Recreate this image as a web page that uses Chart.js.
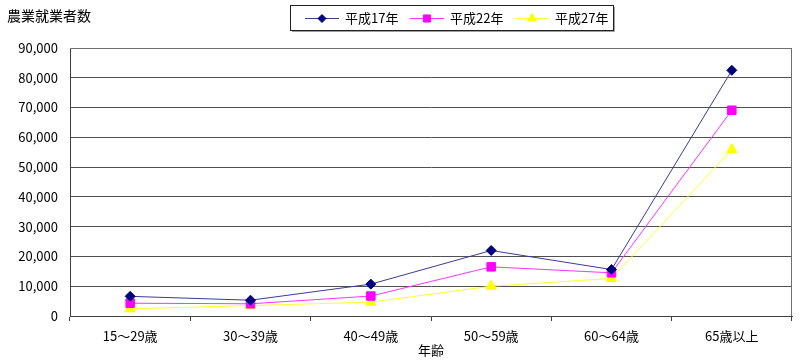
<!DOCTYPE html>
<html>
<head>
<meta charset="utf-8">
<script src="https://cdn.jsdelivr.net/npm/chart.js@4/dist/chart.umd.min.js"></script>
<style>
  html, body { margin: 0; padding: 0; background: #fff; }
  #wrap { position: relative; width: 800px; height: 363px; }
</style>
</head>
<body>
<div id="wrap"><canvas id="c" width="800" height="363"></canvas></div>
<script>
(function () {
  "use strict";

  /* ---- data -------------------------------------------------------- */
  var AGES = ["15～29歳", "30～39歳", "40～49歳", "50～59歳", "60～64歳", "65歳以上"];
  var H17 = [6600, 5300, 10700, 22000, 15600, 82500];
  var H22 = [4300, 4100, 6700, 16500, 14500, 69100];
  var H27 = [2400, 3500, 4650, 10000, 12600, 55900];
  var SERIES_NAMES = ["平成17年", "平成22年", "平成27年"];
  var Y_TITLE = "農業就業者数";
  var X_TITLE = "年齢";

  var FONT = "'Noto Sans CJK JP', 'Noto Sans', sans-serif";
  var COLORS = ["#000080", "#ff00ff", "#ffff00"];
  var LINES = ["#3a3a9a", "#ff33ff", "#ffff33"];
  var STYLES = ["rectRot", "rect", "triangle"];
  var RADII = [5, 6, 6];

  /* ---- extras: title, boxed legend, plot frame --------------------- */
  var extras = {
    id: "extras",
    afterDraw: function (chart) {
      var ctx = chart.ctx, a = chart.chartArea;
      ctx.save();

      // frame: top + right edges
      ctx.strokeStyle = "#707070";
      ctx.lineWidth = 1;
      ctx.beginPath();
      ctx.moveTo(a.left, a.top + 0.5);
      ctx.lineTo(a.right - 0.5, a.top + 0.5);
      ctx.lineTo(a.right - 0.5, a.bottom);
      ctx.stroke();

      // y title
      ctx.fillStyle = "#000";
      ctx.font = "14px " + FONT;
      ctx.textBaseline = "middle";
      ctx.textAlign = "left";
      ctx.fillText(Y_TITLE, 7, 16);

      // legend box
      ctx.fillStyle = "#fff";
      ctx.fillRect(290.5, 5.5, 323, 25);
      ctx.strokeStyle = "#202020";
      ctx.strokeRect(290.5, 5.5, 323, 25);
      ctx.strokeStyle = "#a0a0a0";
      ctx.beginPath();
      ctx.moveTo(292, 31.5); ctx.lineTo(614.5, 31.5); ctx.lineTo(614.5, 7);
      ctx.stroke();

      chart.data.datasets.forEach(function (ds, i) {
        var x0 = 305 + i * 105, y = 18;
        ctx.strokeStyle = ds.borderColor;
        ctx.lineWidth = 1;
        ctx.beginPath();
        ctx.moveTo(x0, y + 0.5);
        ctx.lineTo(x0 + 34, y + 0.5);
        ctx.stroke();
        ctx.fillStyle = ds.pointBackgroundColor;
        ctx.strokeStyle = ds.pointBorderColor;
        Chart.helpers.drawPoint(ctx, {
          pointStyle: ds.pointStyle, radius: ds.pointRadius - 1,
          rotation: 0, borderWidth: 1
        }, x0 + 17, y + 0.5);
        ctx.fillStyle = "#000";
        ctx.font = "13px " + FONT;
        ctx.textAlign = "left";
        ctx.fillText(ds.label, x0 + 40, y);
      });
      ctx.restore();
    }
  };

  var mk = function (i, data) {
    return {
      label: SERIES_NAMES[i],
      data: data,
      borderColor: LINES[i],
      borderWidth: 1,
      pointStyle: STYLES[i],
      pointRadius: RADII[i],
      pointBackgroundColor: COLORS[i],
      pointBorderColor: COLORS[i],
      pointBorderWidth: 1,
      tension: 0
    };
  };

  new Chart(document.getElementById("c"), {
    type: "line",
    data: {
      labels: AGES,
      datasets: [mk(0, H17), mk(1, H22), mk(2, H27)]
    },
    options: {
      responsive: false,
      animation: false,
      layout: { padding: { top: 48, right: 8, left: 0, bottom: 0 } },
      plugins: {
        legend: { display: false },
        tooltip: { enabled: false }
      },
      scales: {
        x: {
          offset: true,
          grid: {
            offset: true,
            drawOnChartArea: false,
            drawTicks: true,
            tickLength: 5,
            color: "#404040"
          },
          border: { color: "#404040" },
          ticks: { color: "#000", font: { family: FONT, size: 13 }, padding: 7 },
          title: {
            display: true, text: X_TITLE, color: "#000",
            font: { family: FONT, size: 13 }, padding: { top: 0, bottom: 5 }
          },
          afterFit: function (s) { s.height = 47; }
        },
        y: {
          min: 0,
          max: 90000,
          ticks: {
            stepSize: 10000,
            color: "#000",
            font: { family: FONT, size: 13 },
            padding: 12,
            callback: function (v) { return v.toLocaleString("en-US"); }
          },
          grid: { color: "#505050", drawTicks: false },
          border: { color: "#404040" },
          afterFit: function (s) { s.width = 70; }
        }
      }
    },
    plugins: [extras]
  });
})();
</script>
</body>
</html>
